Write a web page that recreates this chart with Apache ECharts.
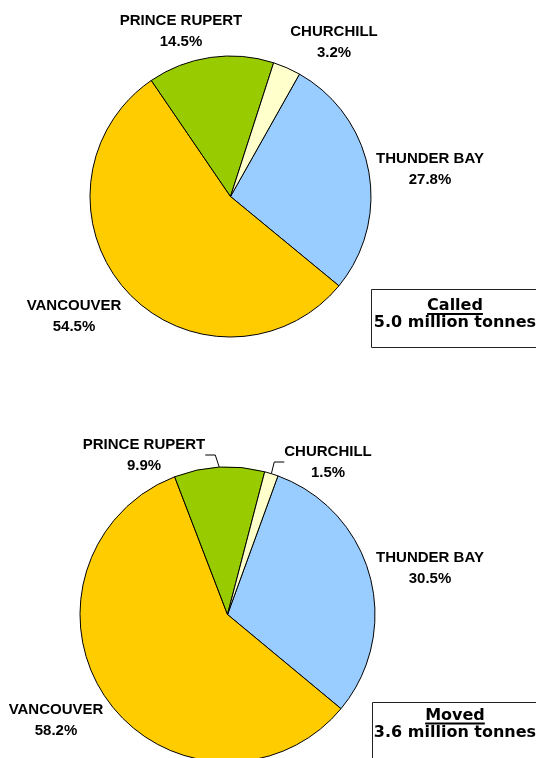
<!DOCTYPE html>
<html><head><meta charset="utf-8">
<script src="https://cdn.jsdelivr.net/npm/echarts@6/dist/echarts.min.js"></script>
<style>html,body{margin:0;padding:0;background:#fff;overflow:hidden}#c{width:536px;height:758px}</style>
</head><body><div id="c"></div>
<script>
// ---- data ----
const ports = ['THUNDER BAY', 'VANCOUVER', 'PRINCE RUPERT', 'CHURCHILL'];
const calledShare = [27.8, 54.5, 14.5, 3.2];   // % of tonnes called
const movedShare = [30.5, 58.2, 9.9, 1.5];     // % of tonnes moved
const boxTitles = ['Called', 'Moved'];
const boxTotals = ['5.0 million tonnes', '3.6 million tonnes'];

// ---- styling ----
const portColors = ['#99CCFF', '#FFCC00', '#99CC00', '#FFFFCC'];
const calledLabelPos = [[430, 169.5], [74, 316.5], [181, 31.3], [334, 42]];
const movedLabelPos = [[430, 568.5], [56, 720.5], [144, 455], [328, 462]];
const labelFont = 'Liberation Sans';
const boxFont = 'DejaVu Sans';

function measure(txt, size, fam) {
  const ctx = document.createElement('canvas').getContext('2d');
  ctx.font = 'bold ' + size + 'px "' + fam + '"';
  return ctx.measureText(txt).width;
}

function pieSeries(values, center, radius, startAngle, labelPos, leaderIdx) {
  return {
    type: 'pie',
    center: center,
    radius: radius,
    startAngle: startAngle,
    clockwise: true,
    avoidLabelOverlap: false,
    silent: true,
    animation: false,
    itemStyle: { borderColor: '#000', borderWidth: 1 },
    label: {
      show: true,
      position: 'outside',
      formatter: '{b}\n{c}%',
      fontFamily: labelFont,
      fontWeight: 'bold',
      fontSize: 15,
      lineHeight: 21,
      color: '#000',
      align: 'center'
    },
    labelLine: { show: false, length: 10, length2: 10, lineStyle: { color: '#000', width: 1 } },
    labelLayout: function (p) {
      const pos = labelPos[p.dataIndex];
      return { x: pos[0], y: pos[1], align: 'center', verticalAlign: 'middle' };
    },
    data: ports.map((n, i) => ({
      name: n,
      value: values[i],
      itemStyle: { color: portColors[i] },
      labelLine: leaderIdx.indexOf(i) >= 0 ? { show: true, length: 10, length2: 10, lineStyle: { color: '#000', width: 1 } } : { show: false }
    }))
  };
}

const boxes = [
  { x: 371.5, y: 289.5, h: 58, ty: 306, uy: 314, ly: 323 },
  { x: 372.5, y: 702.5, h: 100, ty: 715.5, uy: 723.5, ly: 733 }
];
const graphic = [];
boxes.forEach((b, i) => {
  graphic.push({ type: 'rect', shape: { x: b.x, y: b.y, width: 200, height: b.h },
    style: { fill: '#fff', stroke: '#222', lineWidth: 1 }, z: 10 });
  const cx = 455;
  graphic.push({ type: 'text', x: cx, y: b.ty, z: 11,
    style: { text: boxTitles[i], fill: '#000', font: 'bold 16px "' + boxFont + '"', textAlign: 'center', textVerticalAlign: 'middle' } });
  const w = measure(boxTitles[i], 16, boxFont);
  graphic.push({ type: 'line', z: 11, shape: { x1: cx - w / 2, y1: b.uy, x2: cx + w / 2, y2: b.uy },
    style: { stroke: '#000', lineWidth: 2 } });
  graphic.push({ type: 'text', x: cx, y: b.ly, z: 11,
    style: { text: boxTotals[i], fill: '#000', font: 'bold 16px "' + boxFont + '"', textAlign: 'center', textVerticalAlign: 'middle' } });
});

const chart = echarts.init(document.getElementById('c'), null, { renderer: 'canvas' });
chart.setOption({
  backgroundColor: '#fff',
  animation: false,
  series: [
    pieSeries(calledShare, [230.5, 196.5], 140.5, 60.6, calledLabelPos, []),
    pieSeries(movedShare, [227.5, 614.5], 147.5, 70, movedLabelPos, [2, 3])
  ],
  graphic: graphic
});
</script>
</body></html>
